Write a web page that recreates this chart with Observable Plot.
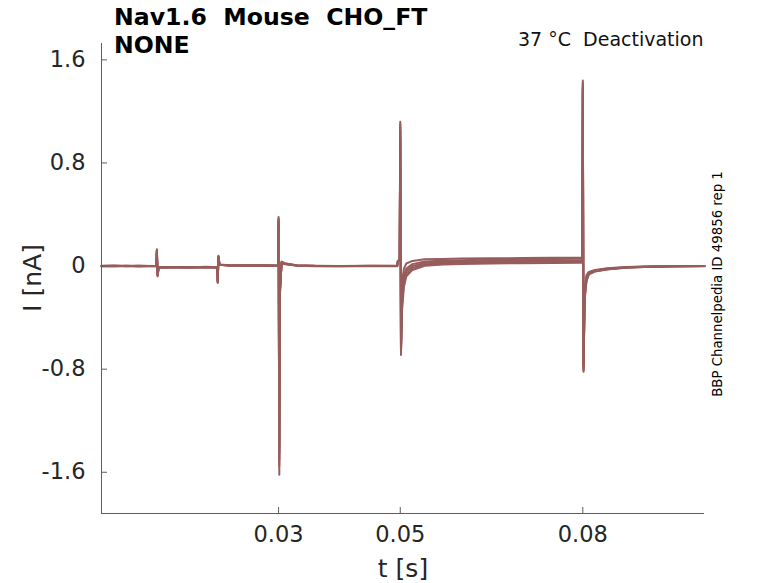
<!DOCTYPE html>
<html>
<head>
<meta charset="utf-8">
<script src="https://cdn.jsdelivr.net/npm/d3@7"></script>
<script src="https://cdn.jsdelivr.net/npm/@observablehq/plot@0.6"></script>
<style>
  body { margin: 0; background: #fff; }
  #wrap { position: relative; width: 778px; height: 583px; font-family: "DejaVu Sans", sans-serif; }
  .ov { position: absolute; white-space: nowrap; color: #000; }
</style>
</head>
<body>
<div id="wrap"></div>
<script>
// ---- data ----
const timeS = [0.0009, 0.003, 0.005, 0.007, 0.0099, 0.01, 0.01012, 0.0103, 0.012, 0.015, 0.018, 0.0199,
  0.02, 0.02012, 0.0203, 0.022, 0.025, 0.028, 0.0299, 0.03, 0.03012, 0.0302, 0.0305, 0.031, 0.033, 0.036,
  0.04, 0.045, 0.0495, 0.0496, 0.0499, 0.05, 0.05012, 0.0503, 0.0506, 0.051, 0.052, 0.054, 0.057, 0.06,
  0.065, 0.07, 0.075, 0.0799, 0.08, 0.08012, 0.0803, 0.0806, 0.081, 0.082, 0.084, 0.087, 0.09, 0.095, 0.1];
const sweep1 = [0.002, 0.004, -0.002, 0.003, 0.001, 0.13, -0.08, -0.012, -0.008, -0.011, -0.006, -0.01,
  -0.13, 0.08, 0.012, 0.006, 0.004, 0.007, 0.003, 0.38, -1.62, -0.25, 0.035, 0.022, 0.006, 0.002,
  0.001, 0.003, 0.002, 0.04, 0.05, 1.12, -0.69, -0.12, -0.02, 0.02, 0.04, 0.052, 0.055, 0.058,
  0.06, 0.062, 0.064, 0.067, 1.44, -0.82, -0.2, -0.07, -0.045, -0.03, -0.016, -0.008, -0.004, 0.001, 0.0];
const sweep2 = [-0.002, 0.001, 0.003, -0.003, 0.0, 0.12, -0.07, -0.01, -0.012, -0.007, -0.01, -0.008,
  -0.12, 0.075, 0.01, 0.004, 0.007, 0.003, 0.005, 0.36, -1.5, -0.22, 0.03, 0.018, 0.004, 0.0,
  -0.002, 0.0, 0.001, 0.038, 0.045, 1.08, -0.66, -0.2, -0.07, -0.02, 0.015, 0.035, 0.042, 0.046,
  0.05, 0.052, 0.054, 0.056, 1.4, -0.8, -0.22, -0.09, -0.05, -0.035, -0.02, -0.01, -0.005, -0.002, 0.001];
const sweep3 = [0.001, -0.003, 0.001, 0.002, -0.002, 0.12, -0.07, -0.009, -0.01, -0.013, -0.009, -0.011,
  -0.12, 0.07, 0.011, 0.005, 0.002, 0.005, 0.004, 0.35, -1.45, -0.2, 0.025, 0.015, 0.005, 0.001,
  0.0, -0.002, 0.0, 0.035, 0.042, 1.05, -0.64, -0.26, -0.1, -0.04, 0.0, 0.024, 0.032, 0.036,
  0.04, 0.042, 0.044, 0.046, 1.38, -0.78, -0.24, -0.1, -0.055, -0.038, -0.022, -0.012, -0.006, 0.0, -0.001];
const sweep4 = [0.0, 0.002, -0.001, -0.002, 0.002, 0.11, -0.06, -0.011, -0.009, -0.01, -0.012, -0.009,
  -0.11, 0.07, 0.009, 0.006, 0.005, 0.002, 0.004, 0.37, -1.55, -0.23, 0.03, 0.02, 0.005, 0.002,
  0.001, 0.001, -0.001, 0.036, 0.044, 1.1, -0.67, -0.3, -0.13, -0.06, -0.015, 0.012, 0.022, 0.026,
  0.03, 0.032, 0.034, 0.036, 1.42, -0.81, -0.25, -0.11, -0.06, -0.04, -0.024, -0.013, -0.007, -0.002, 0.0];
const sweep5 = [-0.001, 0.0, 0.002, 0.001, -0.001, 0.12, -0.07, -0.01, -0.011, -0.009, -0.008, -0.012,
  -0.13, 0.075, 0.01, 0.003, 0.006, 0.004, 0.002, 0.34, -1.4, -0.2, 0.028, 0.017, 0.003, -0.001,
  -0.001, 0.002, 0.001, 0.034, 0.04, 1.0, -0.62, -0.34, -0.16, -0.08, -0.03, 0.002, 0.012, 0.016,
  0.02, 0.022, 0.024, 0.026, 1.36, -0.77, -0.26, -0.12, -0.065, -0.042, -0.026, -0.014, -0.008, -0.003, 0.001];
const sweepNames = ["1", "2", "3", "4", "5"];
const xTicks = [0.03, 0.05, 0.08];
const xTickLabels = ["0.03", "0.05", "0.08"];
const yTicks = [-1.6, -0.8, 0, 0.8, 1.6];
const yTickLabels = ["-1.6", "-0.8", "0", "0.8", "1.6"];
const xDomain = [0.0009, 0.1];
const yDomain = [-1.92, 1.727];

// ---- build table ----
const sweeps = [sweep1, sweep2, sweep3, sweep4, sweep5];
const rows = [];
sweeps.forEach((s, k) => s.forEach((v, i) => rows.push({t: timeS[i], I: v, sweep: sweepNames[k]})));

const W = 778, H = 583, mL = 101, mR = 74, mT = 43, mB = 70;
const frameW = W - mL - mR, frameH = H - mT - mB;
const axisColor = "#5e5e5e";
const traceColor = "#975c5c";

const chart = Plot.plot({
  width: W, height: H,
  marginLeft: mL, marginRight: mR, marginTop: mT, marginBottom: mB,
  style: {fontFamily: "DejaVu Sans, sans-serif", background: "#fff", overflow: "visible"},
  x: {domain: xDomain, ticks: xTicks, tickFormat: (d) => xTickLabels[xTicks.indexOf(d)] ?? "", label: null},
  y: {domain: yDomain, ticks: yTicks, tickFormat: (d) => yTickLabels[yTicks.indexOf(d)] ?? "", label: null},
  marks: [
    Plot.line(rows, {x: "t", y: "I", z: "sweep", stroke: traceColor, strokeWidth: 2, strokeLinejoin: "round"}),
    Plot.ruleX([xDomain[0]], {stroke: axisColor, strokeWidth: 1}),
    Plot.ruleY([yDomain[0]], {stroke: axisColor, strokeWidth: 1}),
    Plot.tickY(yTicks, {y: (d) => d, stroke: axisColor, insetRight: frameW - 6}),
    Plot.tickX(xTicks, {x: (d) => d, stroke: axisColor, insetTop: frameH - 6}),
    Plot.axisY({ticks: yTicks, tickSize: 0, tickPadding: 16, fontSize: 22.5, fill: "#262626", label: null,
      tickFormat: (d) => yTickLabels[yTicks.indexOf(d)] ?? ""}),
    Plot.axisX({ticks: xTicks, tickSize: 0, tickPadding: 13, fontSize: 22.5, fill: "#262626", label: null,
      tickFormat: (d) => xTickLabels[xTicks.indexOf(d)] ?? ""})
  ]
});

const wrap = document.getElementById("wrap");
wrap.appendChild(chart);

function overlay(text, css) {
  const d = document.createElement("div");
  d.className = "ov";
  d.textContent = text;
  Object.assign(d.style, css);
  wrap.appendChild(d);
  return d;
}
overlay("Nav1.6  Mouse  CHO_FT", {left: "114px", top: "3px", fontSize: "23.6px", fontWeight: "bold", whiteSpace: "pre"});
overlay("NONE", {left: "114px", top: "31px", fontSize: "23.6px", fontWeight: "bold"});
overlay("37 °C  Deactivation", {left: "518px", top: "28px", fontSize: "19px", whiteSpace: "pre", color: "#111"});
overlay("t [s]", {left: "403px", top: "568px", fontSize: "25px", color: "#262626", transform: "translate(-50%, -50%)"});
overlay("I [nA]", {left: "32px", top: "278px", fontSize: "25px", color: "#262626", transform: "translate(-50%, -50%) rotate(-90deg)"});
overlay("BBP Channelpedia ID 49856 rep 1", {left: "717px", top: "284px", fontSize: "13.3px", color: "#000", transform: "translate(-50%, -50%) rotate(-90deg)"});
</script>
</body>
</html>
